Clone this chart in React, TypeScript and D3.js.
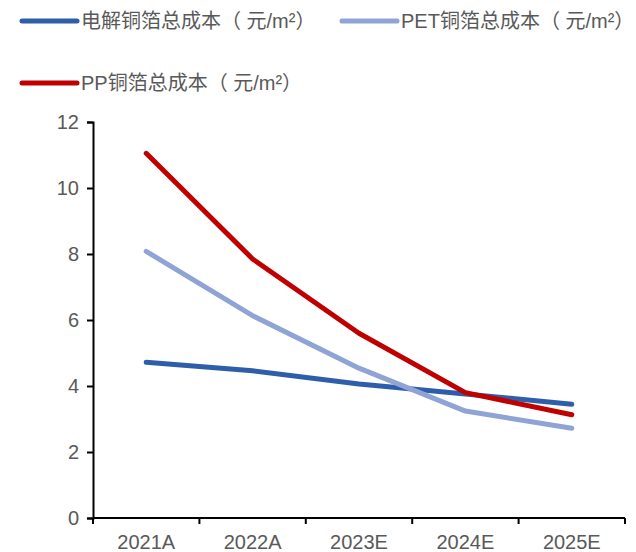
import React, { useEffect, useRef } from "react";
import * as d3 from "d3";

const WIDTH = 636;
const HEIGHT = 552;

const categories = ["2021A", "2022A", "2023E", "2024E", "2025E"];
const electrolytic = [4.72, 4.46, 4.06, 3.76, 3.45];
const pet = [8.08, 6.13, 4.54, 3.24, 2.72];
const pp = [11.05, 7.85, 5.6, 3.8, 3.13];
const yTicks = [0, 2, 4, 6, 8, 10, 12];

const seriesNames = [
  "电解铜箔总成本（ 元/m²）",
  "PET铜箔总成本（ 元/m²）",
  "PP铜箔总成本（ 元/m²）",
];
const seriesColors = ["#2E5EAA", "#8FA4D5", "#C00000"];

const FONT = "'Liberation Sans', Arial, 'Noto Sans CJK SC', sans-serif";
const TEXT_COLOR = "#595959";

const App = () => {
  const yAxisRef = useRef<SVGGElement>(null);

  const xScale = d3.scaleBand().domain(categories).range([93, 625]).padding(0);
  const yScale = d3.scaleLinear().domain([0, 12]).range([518, 122]);
  const cx = (c: string) => (xScale(c) || 0) + xScale.bandwidth() / 2;

  const allSeries = [electrolytic, pet, pp];

  const lineGen = d3
    .line<number>()
    .x((_, i) => cx(categories[i]))
    .y((d) => yScale(d));

  // y axis via d3
  useEffect(() => {
    const g = d3.select(yAxisRef.current);
    g.selectAll("*").remove();
    g.call(d3.axisLeft(yScale).tickValues(yTicks).tickSize(6).tickPadding(8));
    g.select(".domain").attr("stroke", "#000").attr("stroke-width", 2);
    g.selectAll(".tick line").attr("stroke", "#000").attr("stroke-width", 2);
    g.selectAll(".tick text")
      .attr("fill", TEXT_COLOR)
      .style("font-size", "20px")
      .style("font-family", FONT);
  }, []);

  const boundaries = [...categories.map((c) => xScale(c) || 0), 625];

  return (
    <svg
      width={WIDTH}
      height={HEIGHT}
      style={{ position: "absolute", left: 0, top: 0, background: "#fff" }}
    >
      {/* legend */}
      {seriesNames.map((name, i) => {
        const lx = i === 1 ? 342 : 22;
        const ly = i === 2 ? 83 : 21;
        return (
          <g key={name}>
            <line
              x1={lx}
              x2={lx + 55}
              y1={ly}
              y2={ly}
              stroke={seriesColors[i]}
              strokeWidth={5}
              strokeLinecap="round"
            />
            <text
              x={lx + 59}
              y={ly}
              dy="0.35em"
              fill={TEXT_COLOR}
              fontSize={20}
              fontFamily={FONT}
              style={{ whiteSpace: "pre" }}
            >
              {name}
            </text>
          </g>
        );
      })}

      {/* lines */}
      {allSeries.map((s, i) => (
        <path
          key={i}
          d={lineGen(s) || ""}
          fill="none"
          stroke={seriesColors[i]}
          strokeWidth={5}
          strokeLinecap="round"
          strokeLinejoin="round"
        />
      ))}

      {/* x axis */}
      <line x1={93} x2={625} y1={518} y2={518} stroke="#000" strokeWidth={2} />
      {boundaries.map((b, i) => (
        <line key={i} x1={b} x2={b} y1={518} y2={524} stroke="#000" strokeWidth={2} />
      ))}
      {categories.map((c) => (
        <text
          key={c}
          x={cx(c)}
          y={549}
          textAnchor="middle"
          fill={TEXT_COLOR}
          fontSize={20}
          fontFamily={FONT}
        >
          {c}
        </text>
      ))}

      <g ref={yAxisRef} transform="translate(93,0)" />
    </svg>
  );
};

export default App;
